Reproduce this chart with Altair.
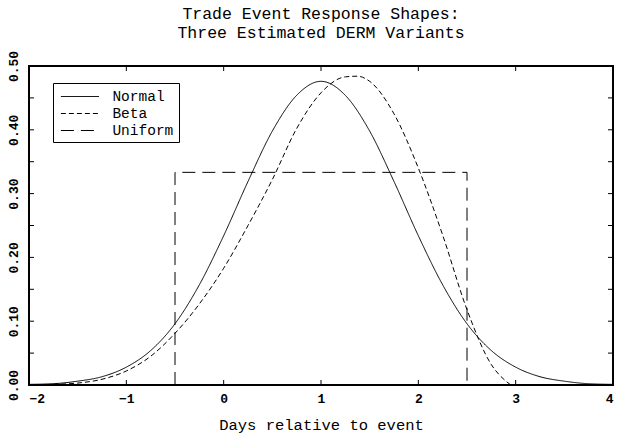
import altair as alt
import pandas as pd

# ---- data ----
normal_x = [-2.0, -1.75, -1.5, -1.25, -1.0, -0.75, -0.5, -0.25, 0.0, 0.25, 0.5, 0.75,
            1.0, 1.25, 1.5, 1.75, 2.0, 2.25, 2.5, 2.75, 3.0, 3.25, 3.5, 3.75, 4.0]
normal_y = [0.001, 0.002, 0.006, 0.013, 0.028, 0.054, 0.096, 0.157, 0.234, 0.319, 0.398, 0.454,
            0.476, 0.454, 0.398, 0.319, 0.234, 0.157, 0.096, 0.054, 0.028, 0.013, 0.006, 0.002, 0.001]

beta_x = [-2.0, -1.75, -1.5, -1.25, -1.0, -0.75, -0.5, -0.25, 0.0, 0.25, 0.5, 0.75,
          1.0, 1.25, 1.375, 1.5, 1.75, 2.0, 2.25, 2.5, 2.75, 2.9, 2.95]
beta_y = [0.000, 0.001, 0.003, 0.009, 0.022, 0.045, 0.081, 0.127, 0.183, 0.250, 0.322, 0.402,
          0.458, 0.483, 0.484, 0.476, 0.425, 0.340, 0.235, 0.118, 0.032, 0.006, 0.000]

uniform_x = [-0.5, -0.5, 2.5, 2.5]
uniform_y = [0.0, 0.3333, 0.3333, 0.0]

series_names = ["Normal", "Beta", "Uniform"]
x_ticks = [-2, -1, 0, 1, 2, 3, 4]
y_ticks = [0.0, 0.05, 0.10, 0.15, 0.20, 0.25, 0.30, 0.35, 0.40, 0.45, 0.50]
y_labels = [0.0, 0.1, 0.2, 0.3, 0.4, 0.5]

title_lines = ["Trade Event Response Shapes:", "Three Estimated DERM Variants"]
x_title = "Days relative to event"

# ---- tables ----
curve_rows = []
for xs, ys, name in [(normal_x, normal_y, "Normal"), (beta_x, beta_y, "Beta")]:
    for i, (a, b) in enumerate(zip(xs, ys)):
        curve_rows.append({"x": a, "y": b, "series": name, "i": i})
curves = pd.DataFrame(curve_rows)
unif = pd.DataFrame({"x": uniform_x, "y": uniform_y, "series": "Uniform",
                     "i": list(range(len(uniform_x)))})
xt = pd.DataFrame({"x": x_ticks})
yt = pd.DataFrame({"y": y_ticks})

W, H = 584, 319
FONT = "Liberation Mono"

xscale = alt.Scale(domain=[-2, 4], nice=False, zero=False)
yscale = alt.Scale(domain=[0, 0.5], nice=False, zero=True)
x_axis = alt.Axis(values=x_ticks, format="d", title=x_title, grid=False, ticks=False,
                  tickSize=0, domain=False, labelFont=FONT, labelFontSize=13,
                  labelFontWeight="bold", labelPadding=7, labelColor="black",
                  titleFont=FONT, titleFontSize=15.5, titleFontWeight="normal",
                  titleColor="black", titlePadding=12)
y_axis = alt.Axis(values=y_labels, format=".2f", title=None, grid=False, ticks=False,
                  tickSize=0, domain=False, labelFont=FONT, labelFontSize=13,
                  labelFontWeight="bold", labelAngle=270, labelAlign="center",
                  labelBaseline="bottom", labelPadding=9, labelColor="black")
X = alt.X("x:Q", scale=xscale, axis=x_axis)
Y = alt.Y("y:Q", scale=yscale, axis=y_axis)

dash = alt.StrokeDash(
    "series:N",
    scale=alt.Scale(domain=series_names, range=[[1, 0], [5, 3], [13, 7]]),
    legend=alt.Legend(title=None, orient="none", legendX=24, legendY=17,
                      symbolType="M-2.5,0H2.5", symbolSize=231, symbolStrokeWidth=1,
                      symbolStrokeColor="black", symbolOffset=13.4,
                      labelFont=FONT, labelFontSize=14.5,
                      labelColor="black", labelOffset=24, strokeColor="black",
                      fillColor="white", padding=5, rowPadding=2),
)

frame = alt.Chart(xt).mark_rect(fill="white", fillOpacity=0, stroke="black", strokeWidth=2).encode(
    x=alt.value(0), x2=alt.value(W), y=alt.value(0), y2=alt.value(H))
lines = alt.Chart(curves).mark_line(color="black", strokeWidth=1, interpolate="monotone").encode(
    x=X, y=Y, strokeDash=dash, order="i:Q", detail="series:N")
uni = alt.Chart(unif).mark_line(color="black", strokeWidth=1).encode(
    x=X, y=Y, strokeDash=dash, order="i:Q")

tb = alt.Chart(xt).mark_rule(color="black", strokeWidth=1).encode(x=X, y=alt.value(H), y2=alt.value(H - 5))
tt = alt.Chart(xt).mark_rule(color="black", strokeWidth=1).encode(x=X, y=alt.value(0), y2=alt.value(5))
tl = alt.Chart(yt).mark_rule(color="black", strokeWidth=1).encode(y=Y, x=alt.value(0), x2=alt.value(5))
tr = alt.Chart(yt).mark_rule(color="black", strokeWidth=1).encode(y=Y, x=alt.value(W), x2=alt.value(W - 5))

chart = alt.layer(lines, uni, tb, tt, tl, tr, frame).properties(
    width=W, height=H,
    title=alt.Title(title_lines, font=FONT, fontSize=16.5, fontWeight="normal", color="black",
                    anchor="middle", frame="group", offset=9, lineHeight=19),
    autosize=alt.AutoSizeParams(type="none"),
    padding={"left": 29, "top": 66, "right": 5, "bottom": 54},
).configure_view(strokeWidth=0).configure(background="white")

chart.save("out.html", embed_options={"renderer": "svg", "actions": False})
